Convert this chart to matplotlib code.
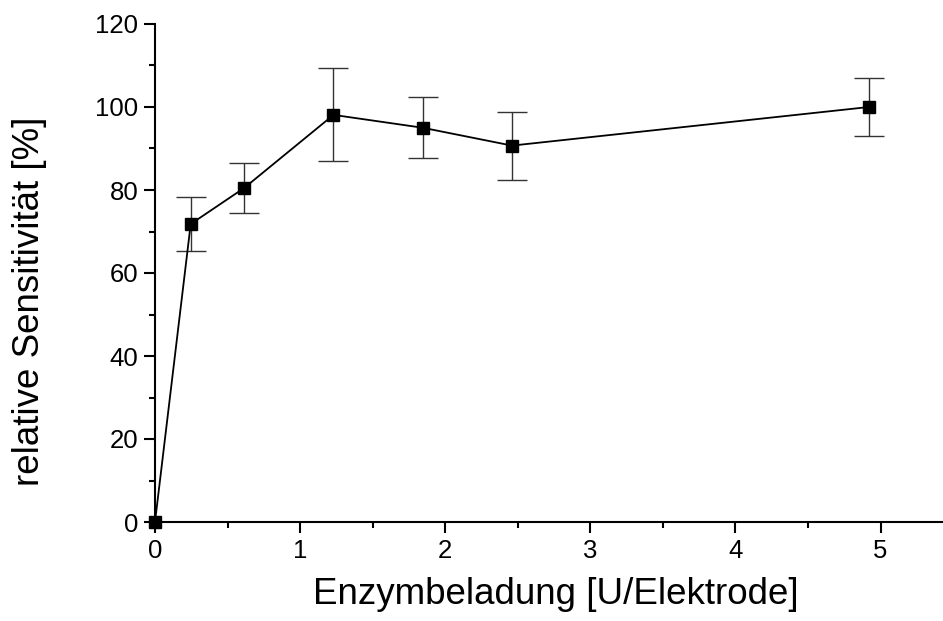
import matplotlib.pyplot as plt
from matplotlib.ticker import MultipleLocator

plt.rcParams["font.family"] = ["Liberation Sans", "DejaVu Sans"]

# enzyme loading per electrode and relative sensitivity
loading = [0, 0.246, 0.615, 1.23, 1.845, 2.46, 4.92]
sensitivity = [0, 71.8, 80.5, 98.1, 95.0, 90.7, 100.0]
sens_err = [0, 6.4, 6.0, 11.2, 7.3, 8.2, 7.0]

fig = plt.figure(figsize=(9.43, 6.21), dpi=100)
ax = fig.add_axes([155 / 943, 1 - 522 / 621, (943 - 155) / 943, (522 - 24) / 621])

ax.errorbar(loading, sensitivity, yerr=sens_err, fmt="none",
            ecolor="#333333", elinewidth=1.0, capsize=11, capthick=1.0, zorder=2)
ax.plot(loading, sensitivity, color="black", linewidth=1.3,
        marker="s", markersize=9, markerfacecolor="black",
        markeredgecolor="black", clip_on=False, zorder=3)

ax.set_xlim(0, 5.43)
ax.set_ylim(0, 120)
ax.xaxis.set_major_locator(MultipleLocator(1))
ax.xaxis.set_minor_locator(MultipleLocator(0.5))
ax.yaxis.set_major_locator(MultipleLocator(20))
ax.yaxis.set_minor_locator(MultipleLocator(10))

ax.spines["top"].set_visible(False)
ax.spines["right"].set_visible(False)
for side in ("left", "bottom"):
    ax.spines[side].set_linewidth(1.5)

ax.tick_params(which="major", direction="out", length=8, width=1.5,
               labelsize=18.5, pad=4)
ax.tick_params(which="minor", direction="out", length=4, width=1.5)

ax.set_xlabel("Enzymbeladung [U/Elektrode]", fontsize=26.5)
ax.set_ylabel("relative Sensitivität [%]", fontsize=26.5)
ax.xaxis.label.set_va("center")
ax.yaxis.label.set_va("center")
ax.xaxis.set_label_coords(0.509, -0.145)
ax.yaxis.set_label_coords(-0.159, 0.444)

fig.savefig("out.png", dpi=100)
